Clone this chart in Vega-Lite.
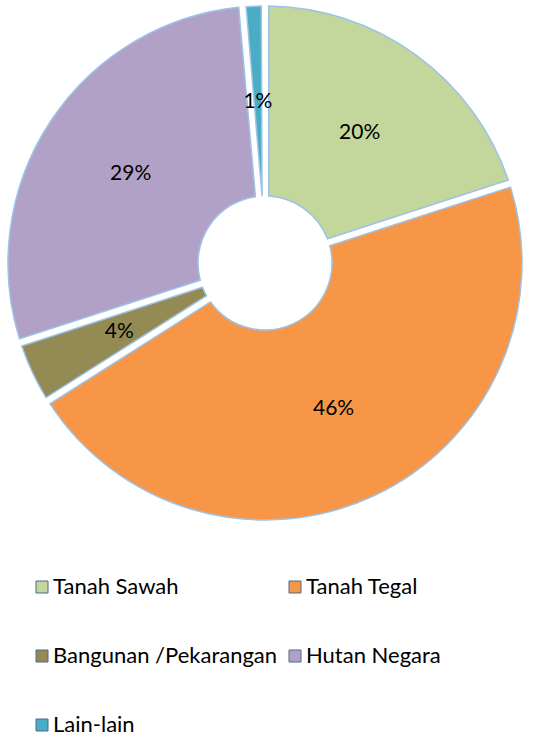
{
  "$schema": "https://vega.github.io/schema/vega-lite/v6.json",
  "width": 530,
  "height": 526,
  "padding": 0,
  "autosize": {"type": "pad"},
  "background": "white",
  "config": {"view": {"stroke": null}},
  "data": {"values": [
    {"idx": 1, "category": "Tanah Sawah", "share": 0.20},
    {"idx": 2, "category": "Tanah Tegal", "share": 0.46},
    {"idx": 3, "category": "Bangunan /Pekarangan", "share": 0.04},
    {"idx": 4, "category": "Hutan Negara", "share": 0.286},
    {"idx": 5, "category": "Lain-lain", "share": 0.014}
  ]},
  "encoding": {
    "theta": {"field": "share", "type": "quantitative", "stack": true},
    "order": {"field": "idx", "type": "quantitative"}
  },
  "layer": [
    {
      "mark": {"type": "arc", "outerRadius": 257, "innerRadius": 67, "padAngle": 0.028, "stroke": "#9dc3e6", "strokeWidth": 1.5},
      "encoding": {
        "color": {
          "field": "category",
          "type": "nominal",
          "scale": {
            "domain": ["Tanah Sawah", "Tanah Tegal", "Bangunan /Pekarangan", "Hutan Negara", "Lain-lain"],
            "range": ["#c3d69b", "#f79646", "#948a54", "#b2a1c7", "#4bacc6"]
          },
          "legend": {
            "title": null,
            "orient": "none",
            "legendX": 31,
            "legendY": 576,
            "columns": 2,
            "direction": "horizontal",
            "symbolType": "square",
            "symbolSize": 144,
            "symbolStrokeColor": "#4a6b8c",
            "symbolStrokeWidth": 1,
            "labelFont": "Lato",
            "labelFontSize": 22,
            "labelColor": "black",
            "labelOffset": 0,
            "labelLimit": 0,
            "rowPadding": 47,
            "columnPadding": 6
          }
        }
      }
    },
    {
      "mark": {"type": "text", "radius": 161, "font": "Lato", "fontSize": 21, "color": "black"},
      "encoding": {
        "text": {"field": "share", "type": "quantitative", "format": ".0%"}
      }
    }
  ]
}
